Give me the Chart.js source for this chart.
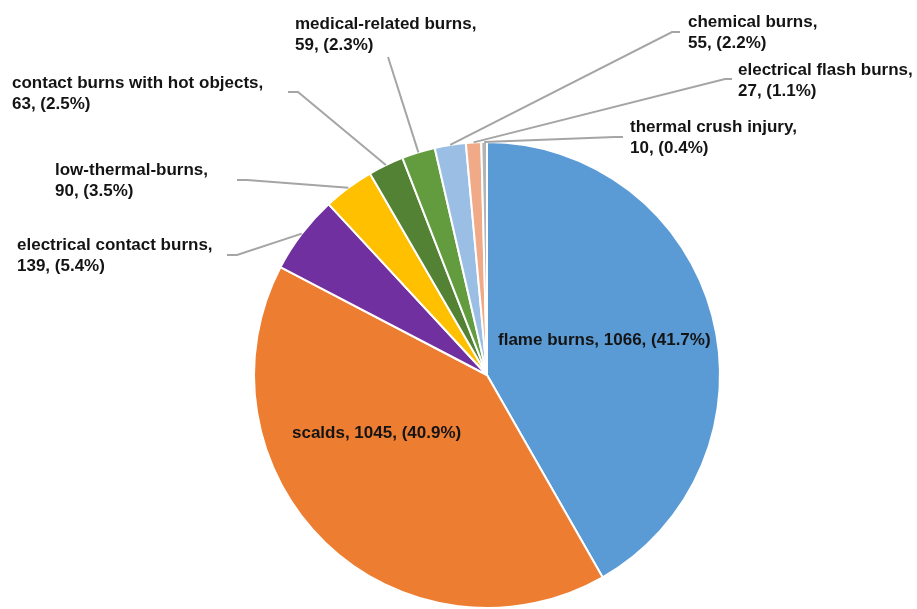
<!DOCTYPE html>
<html>
<head>
<meta charset="utf-8">
<script src="https://cdn.jsdelivr.net/npm/chart.js@4/dist/chart.umd.min.js"></script>
<style>
  html, body { margin: 0; padding: 0; background: #fff; }
  #wrap { width: 917px; height: 609px; position: relative; }
</style>
</head>
<body>
<div id="wrap"><canvas id="burnChart"></canvas></div>
<script>
// Burn injury categories, clockwise from 12 o'clock
const categories = [
    'flame burns',
    'scalds',
    'electrical contact burns',
    'low-thermal-burns',
    'contact burns with hot objects',
    'medical-related burns',
    'chemical burns',
    'electrical flash burns',
    'thermal crush injury'
];
const counts = [1066, 1045, 139, 90, 63, 59, 55, 27, 10];
const sliceColors = [
    '#5B9BD5', '#ED7D31', '#7030A0', '#FFC000', '#548235',
    '#639C3E', '#9BBFE4', '#F1AA88', '#B4B4B4'
];

const total = counts.reduce((a, b) => a + b, 0);

// ------------------------------
// Label placement (text anchor + leader elbow points)
// inside: drawn on one line over the slice
// ------------------------------
const labelLayout = [
    { inside: true, x: 498, y: 340 },
    { inside: true, x: 292, y: 433 },
    { x: 17,  y: 245, leader: [[227, 255], [237, 255]] },
    { x: 55,  y: 170, leader: [[237, 180], [247, 180]] },
    { x: 12,  y: 83,  leader: [[288, 92], [298, 92]] },
    { x: 295, y: 24,  leader: [[388, 57]] },
    { x: 688, y: 22,  leader: [[680, 32], [672, 32]] },
    { x: 738, y: 70,  leader: [[732, 79], [725, 79]] },
    { x: 630, y: 127, leader: [[623, 137], [615, 137]] }
];

const FONT = 'bold 17px "Liberation Sans", Arial, sans-serif';
const LINE_GAP = 21;

function pct(v) { return (v / total * 100).toFixed(1) + '%'; }

const sliceLabels = {
    id: 'sliceLabels',
    afterDatasetsDraw(chart) {
        const ctx = chart.ctx;
        const arcs = chart.getDatasetMeta(0).data;
        ctx.save();
        ctx.font = FONT;
        ctx.textBaseline = 'middle';
        ctx.textAlign = 'left';

        arcs.forEach((arc, i) => {
            const lay = labelLayout[i];
            const value = counts[i];
            const name = categories[i];

            if (lay.inside) {
                ctx.fillStyle = '#141414';
                ctx.fillText(`${name}, ${value}, (${pct(value)})`, lay.x, lay.y);
                return;
            }

            // leader line from the outer edge of the slice
            const p = arc.getProps(['x', 'y', 'startAngle', 'endAngle', 'outerRadius'], true);
            const mid = (p.startAngle + p.endAngle) / 2;
            const ex = p.x + Math.cos(mid) * p.outerRadius;
            const ey = p.y + Math.sin(mid) * p.outerRadius;

            ctx.strokeStyle = '#A5A5A5';
            ctx.lineWidth = 2;
            ctx.beginPath();
            ctx.moveTo(lay.leader[0][0], lay.leader[0][1]);
            for (let k = 1; k < lay.leader.length; k++) ctx.lineTo(lay.leader[k][0], lay.leader[k][1]);
            ctx.lineTo(ex, ey);
            ctx.stroke();

            ctx.fillStyle = '#141414';
            ctx.fillText(`${name},`, lay.x, lay.y);
            ctx.fillText(`${value}, (${pct(value)})`, lay.x, lay.y + LINE_GAP);
        });
        ctx.restore();
    }
};

const ctx = document.getElementById('burnChart').getContext('2d');
new Chart(ctx, {
    type: 'pie',
    data: {
        labels: categories,
        datasets: [{
            data: counts,
            backgroundColor: sliceColors,
            borderColor: '#ffffff',
            borderWidth: 2
        }]
    },
    options: {
        responsive: true,
        maintainAspectRatio: false,
        animation: false,
        layout: { padding: { top: 141, bottom: 0, left: 253, right: 196 } },
        plugins: {
            legend: { display: false },
            tooltip: { enabled: false }
        }
    },
    plugins: [sliceLabels]
});
</script>
</body>
</html>
